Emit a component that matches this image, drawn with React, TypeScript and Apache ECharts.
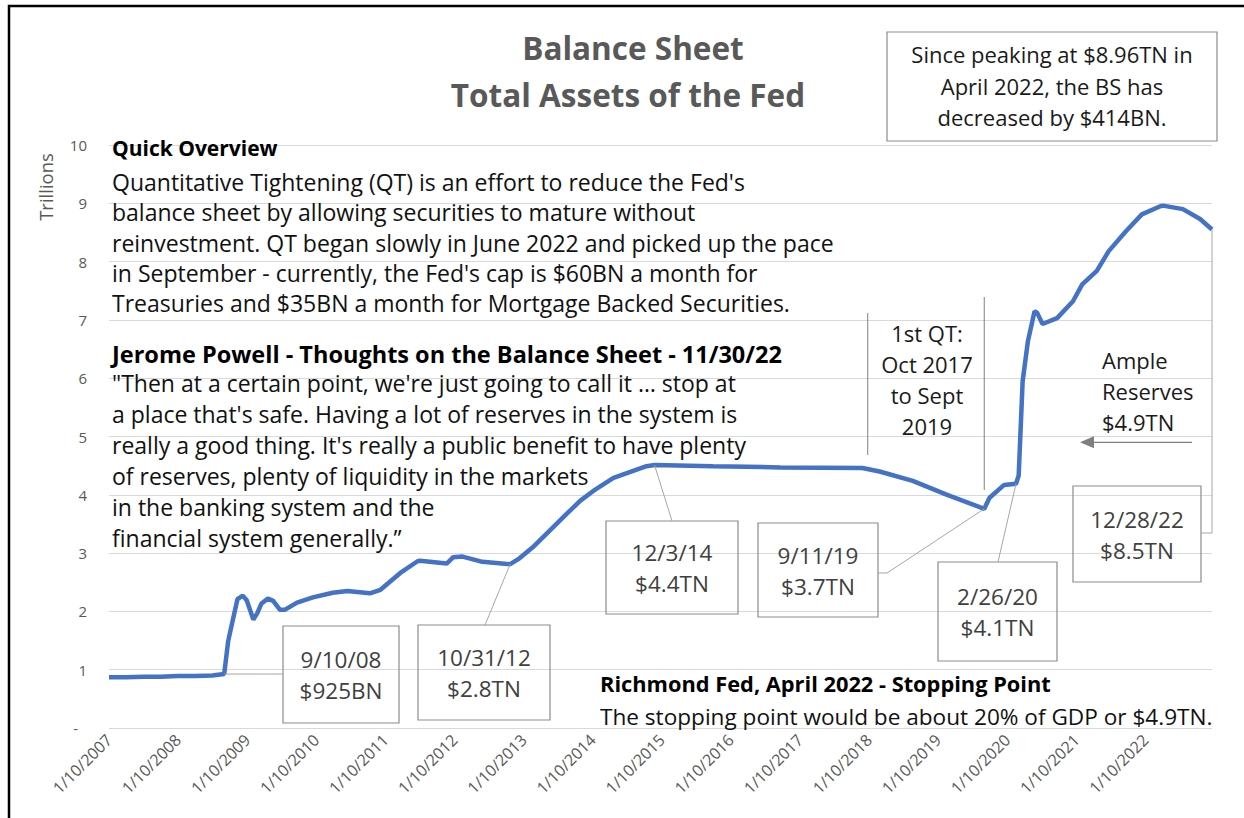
import React, { useEffect, useRef } from "react";
import * as echarts from "echarts";

// ---------------- data ----------------
const dates = [
  "2007-01-10", "2007-04-11", "2007-07-11", "2007-10-10", "2008-01-09", "2008-04-09", "2008-07-09",
  "2008-09-10", "2008-10-01", "2008-10-22", "2008-11-19", "2008-12-17", "2009-01-07", "2009-02-11",
  "2009-03-04", "2009-03-25", "2009-04-29", "2009-05-27", "2009-07-01", "2009-07-29", "2009-09-30",
  "2009-12-23", "2010-04-07", "2010-06-23", "2010-10-20", "2010-12-15", "2011-03-30", "2011-06-29",
  "2011-07-13", "2011-11-30", "2012-01-04", "2012-02-22", "2012-06-06", "2012-10-31", "2012-12-19",
  "2013-02-27", "2013-08-28", "2013-11-06", "2014-01-15", "2014-04-30", "2014-10-22", "2014-12-03",
  "2015-10-07", "2016-09-28", "2017-12-06", "2018-03-07", "2018-08-29", "2019-02-27", "2019-09-11",
  "2019-10-09", "2019-12-25", "2020-02-26", "2020-03-11", "2020-04-01", "2020-04-29", "2020-06-03",
  "2020-06-17", "2020-07-15", "2020-09-30", "2020-12-23", "2021-02-10", "2021-04-28", "2021-06-30",
  "2021-09-29", "2021-12-22", "2022-03-30", "2022-04-13", "2022-07-27", "2022-10-26", "2022-12-28",
];
const assets = [
  0.87, 0.87, 0.88, 0.88, 0.89, 0.89, 0.9,
  0.925, 1.49, 1.8, 2.21, 2.27, 2.19, 1.86,
  1.97, 2.13, 2.22, 2.18, 2.03, 2.03, 2.15,
  2.24, 2.32, 2.35, 2.31, 2.37, 2.66, 2.86,
  2.87, 2.82, 2.93, 2.94, 2.85, 2.81, 2.91,
  3.1, 3.68, 3.9, 4.07, 4.29, 4.49, 4.51,
  4.49, 4.47, 4.46, 4.4, 4.24, 4.0, 3.76,
  3.95, 4.17, 4.19, 4.33, 5.95, 6.64, 7.15,
  7.12, 6.93, 7.03, 7.32, 7.61, 7.84, 8.18,
  8.52, 8.81, 8.95, 8.96, 8.9, 8.73, 8.55,
];
const xTickLabels = [
  "1/10/2007", "1/10/2008", "1/10/2009", "1/10/2010", "1/10/2011", "1/10/2012", "1/10/2013", "1/10/2014",
  "1/10/2015", "1/10/2016", "1/10/2017", "1/10/2018", "1/10/2019", "1/10/2020", "1/10/2021", "1/10/2022",
];
const yTicks = [0, 1, 2, 3, 4, 5, 6, 7, 8, 9, 10];
const calloutDates = ["2008-09-10", "2012-10-31", "2014-12-03", "2019-09-11", "2020-02-26", "2022-12-28"];
const calloutLabels = [
  ["9/10/08", "$925BN"],
  ["10/31/12", "$2.8TN"],
  ["12/3/14", "$4.4TN"],
  ["9/11/19", "$3.7TN"],
  ["2/26/20", "$4.1TN"],
  ["12/28/22", "$8.5TN"],
];
const qtLineDates = ["2018-01-03", "2019-09-11"];
const ampleReserves = 4.9;

const titleLines = ["Balance Sheet", "Total Assets of the Fed"];
const peakNote = ["Since peaking at $8.96TN in", "April 2022, the BS has", "decreased by $414BN."];
const overviewHead = "Quick Overview";
const overviewLines = [
  "Quantitative Tightening (QT) is an effort to reduce the Fed's",
  "balance sheet by allowing securities to mature without",
  "reinvestment. QT began slowly in June 2022 and picked up the pace",
  "in September - currently, the Fed's cap is $60BN a month for",
  "Treasuries and $35BN a month for Mortgage Backed Securities.",
];
const powellHead = "Jerome Powell - Thoughts on the Balance Sheet - 11/30/22";
const powellLines = [
  "\"Then at a certain point, we're just going to call it … stop at",
  "a place that's safe. Having a lot of reserves in the system is",
  "really a good thing. It's really a public benefit to have plenty",
  "of reserves, plenty of liquidity in the markets",
  "in the banking system and the",
  "financial system generally.”",
];
const richmondHead = "Richmond Fed, April 2022 - Stopping Point";
const richmondLine = "The stopping point would be about 20% of GDP or $4.9TN.";
const qtLabel = ["1st QT:", "Oct 2017", "to Sept", "2019"];
const ampleLabel = ["Ample", "Reserves", "$4.9TN"];

// ---------------- helpers ----------------
const FONT = "'Open Sans', 'Noto Sans', sans-serif";
const parseISO = (s: string) => {
  const [y, m, d] = s.split("-").map(Number);
  return Date.UTC(y, m - 1, d);
};
const parseMDY = (s: string) => {
  const [m, d, y] = s.split("/").map(Number);
  return Date.UTC(y, m - 1, d);
};
const valueAt = (date: string) => assets[dates.indexOf(date)];

// layout of callout boxes (pixels)
const boxes = [
  { x: 283, y: 626, w: 116, h: 97, ax: 283, ay: 674 },
  { x: 418, y: 625, w: 132, h: 95, ax: 485, ay: 625 },
  { x: 606, y: 521, w: 132, h: 93, ax: 672, ay: 521 },
  { x: 758, y: 523, w: 120, h: 94, ax: 878, ay: 573, via: 887 },
  { x: 938, y: 562, w: 119, h: 99, ax: 998, ay: 562 },
  { x: 1073, y: 486, w: 128, h: 96, ax: 1201, ay: 533, elbow: true },
];

export default function App() {
  const ref = useRef<HTMLDivElement>(null);
  useEffect(() => {
    if (!ref.current) return;
    const chart = echarts.init(ref.current, null, { renderer: "svg" });
    const seriesData = dates.map((d, i) => [parseISO(d), assets[i]]);
    const tickVals = xTickLabels.map(parseMDY);
    chart.setOption({
      animation: false,
      backgroundColor: "#ffffff",
      textStyle: { fontFamily: FONT },
      grid: { left: 109, right: 32, top: 145, bottom: 90, containLabel: false },
      xAxis: {
        type: "value",
        min: parseISO(dates[0]),
        max: parseISO(dates[dates.length - 1]),
        axisLine: { show: false },
        axisTick: { show: false },
        splitLine: { show: false },
        axisLabel: {
          customValues: tickVals,
          formatter: (v: number) => {
            const i = tickVals.indexOf(v);
            return i >= 0 ? xTickLabels[i] : "";
          },
          rotate: 45,
          fontSize: 16,
          fontFamily: FONT,
          color: "#595959",
          margin: 9,
          hideOverlap: false,
        },
      },
      yAxis: {
        type: "value",
        min: yTicks[0],
        max: yTicks[yTicks.length - 1],
        interval: 1,
        axisLine: { show: false },
        axisTick: { show: false },
        splitLine: { lineStyle: { color: "#d9d9d9", width: 1 } },
        axisLabel: {
          formatter: (v: number) => (v === 0 ? "{d|-}" : String(v)),
          fontSize: 15,
          fontFamily: FONT,
          color: "#595959",
          margin: 22,
          rich: { d: { padding: [0, 9, 0, 0], fontSize: 15, color: "#595959", fontFamily: FONT } },
        },
      },
      series: [
        {
          type: "line",
          data: seriesData,
          showSymbol: false,
          silent: true,
          lineStyle: { width: 4.5, color: "#4472C4" },
          itemStyle: { color: "#4472C4" },
        },
      ],
    });

    const px = (t: number, v: number) =>
      chart.convertToPixel({ gridIndex: 0 }, [t, v]) as number[];

    const g: any[] = [];
    const text = (s: string, x: number, y: number, o: any = {}) =>
      g.push({
        type: "text",
        x,
        y,
        z: 20,
        style: {
          text: s,
          fill: o.fill || "#111111",
          fontSize: o.size || 23,
          fontWeight: o.bold ? "bold" : "normal",
          fontFamily: FONT,
          align: o.align || "left",
          verticalAlign: "middle",
        },
      });
    const line = (pts: number[][], color = "#a6a6a6", w = 1) =>
      g.push({
        type: "polyline",
        z: 15,
        shape: { points: pts },
        style: { stroke: color, lineWidth: w, fill: "none" },
      });

    // outer frame
    line([[9, 818], [9, 6], [1244, 6]], "#000000", 2.5);

    // title
    text(titleLines[0], 633, 47, { size: 31.5, bold: true, fill: "#595959", align: "center" });
    text(titleLines[1], 628, 94, { size: 31.5, bold: true, fill: "#595959", align: "center" });

    // y axis name
    g.push({
      type: "text",
      x: 45,
      y: 187,
      rotation: Math.PI / 2,
      z: 20,
      style: {
        text: "Trillions",
        fill: "#595959",
        fontSize: 18.5,
        fontFamily: FONT,
        align: "center",
        verticalAlign: "middle",
      },
    });

    // peak note box
    g.push({
      type: "rect",
      z: 15,
      shape: { x: 887, y: 32, width: 330, height: 109 },
      style: { fill: "#ffffff", stroke: "#8c8c8c", lineWidth: 1.2 },
    });
    peakNote.forEach((s, i) => text(s, 1052, 54 + i * 31.5, { size: 22, fill: "#1a1a1a", align: "center" }));

    // overview
    text(overviewHead, 112, 148, { size: 21, bold: true, fill: "#000000" });
    overviewLines.forEach((s, i) => text(s, 112, 182 + i * 30.3, { size: 23, fill: "#111111" }));
    text(powellHead, 112, 354, { size: 23.5, bold: true, fill: "#000000" });
    powellLines.forEach((s, i) => text(s, 112, 383 + i * 31, { size: 23, fill: "#111111" }));
    text(richmondHead, 600, 683, { size: 21.8, bold: true, fill: "#000000" });
    text(richmondLine, 600, 716, { size: 22.6, fill: "#111111" });

    // QT lines
    const q1 = px(parseISO(qtLineDates[0]), 0)[0];
    const q2 = px(parseISO(qtLineDates[1]), 0)[0];
    line([[q1, 313], [q1, 455]], "#7f7f7f", 1);
    line([[q2, 297], [q2, 490]], "#7f7f7f", 1);
    qtLabel.forEach((s, i) => text(s, 927, 333 + i * 31, { size: 22, fill: "#1a1a1a", align: "center" }));

    // ample reserves arrow
    const ay = px(parseISO(dates[0]), ampleReserves)[1];
    ampleLabel.forEach((s, i) => text(s, 1102, 360 + i * 31, { size: 22, fill: "#1a1a1a" }));
    line([[1192, ay], [1090, ay]], "#7f7f7f", 1.3);
    g.push({
      type: "polygon",
      z: 15,
      shape: { points: [[1080, ay], [1094, ay - 6], [1094, ay + 6]] },
      style: { fill: "#7f7f7f" },
    });

    // callouts
    calloutDates.forEach((d, i) => {
      const b: any = boxes[i];
      const p = px(parseISO(d), valueAt(d));
      g.push({
        type: "rect",
        z: 15,
        shape: { x: b.x, y: b.y, width: b.w, height: b.h },
        style: { fill: "none", stroke: "#8c8c8c", lineWidth: 1.2 },
      });
      const cx = b.x + b.w / 2;
      const cy = b.y + b.h / 2;
      text(calloutLabels[i][0], cx, cy - 15, { size: 22.5, fill: "#404040", align: "center" });
      text(calloutLabels[i][1], cx, cy + 16, { size: 22.5, fill: "#404040", align: "center" });
      if (b.elbow) {
        line([[b.ax, b.ay], [p[0], b.ay], [p[0], p[1]]]);
      } else if (b.via) {
        line([[b.ax, b.ay], [b.via, b.ay], [p[0], p[1]]]);
      } else {
        line([[b.ax, b.ay], [p[0], p[1]]]);
      }
    });

    chart.setOption({ graphic: { elements: g } });

    return () => chart.dispose();
  }, []);

  return (
    <div
      ref={ref}
      style={{ position: "fixed", left: 0, top: 0, width: 1244, height: 818, background: "#fff" }}
    />
  );
}
